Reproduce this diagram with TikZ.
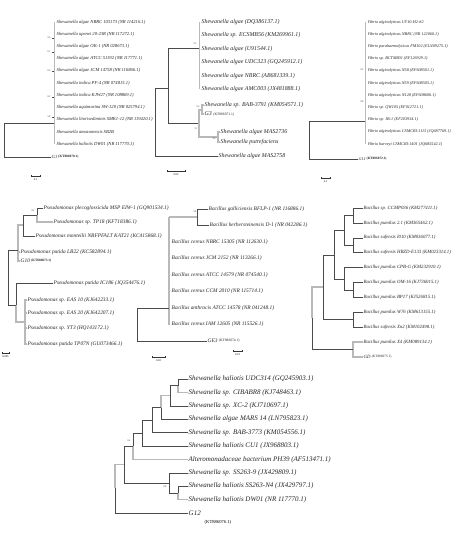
\documentclass[tikz,border=0pt]{standalone}
\usepackage{fontspec}
\setmainfont{Liberation Serif}
\usetikzlibrary{arrows.meta}
\definecolor{ink}{RGB}{75,75,75}
\definecolor{pale}{RGB}{185,185,185}
\tikzset{
  br/.style={draw=ink,line width=0.45pt},
  gbr/.style={draw=pale,line width=1.4pt},
  leaf/.style={anchor=west,inner sep=0.5pt,text=black!85,
    font=\fontsize{#1}{#1}\selectfont\itshape},
  leaf/.default=4.6,
  acc/.style={anchor=west,inner sep=0.5pt,font=\fontsize{#1}{#1}\selectfont\upshape},
  acc/.default=3.4,
  boot/.style={inner sep=0pt,text=black!70,font=\fontsize{2.6}{3}\selectfont},
  sbar/.style={draw=black!80,line width=0.4pt,{Bar[width=2.5pt]}-{Bar[width=2.5pt]}},
  sbtxt/.style={inner sep=0pt,font=\fontsize{2.8}{3}\selectfont},
}

\begin{document}
\begin{tikzpicture}[x=1pt,y=-1pt]
  \useasboundingbox[fill=white] (0,0) rectangle (455,538);

  % tree 1 : Shewanella
  \foreach \t [count=\i] in {Shewanella algae NBRC 103173 (NR 114216.1),
      Shewanella upenei 20-23R (NR 117272.1), Shewanella algae OK-1 (NR 028673.1),
      Shewanella algae ATCC 51192 (NR 117771.1), Shewanella algae JCM 14758 (NR 116866.1),
      Shewanella indica PF-4 (NR 074815.1), Shewanella indica KJW27 (NR 108869.1),
      Shewanella aquimarina SW-120 (NR 025794.1), Shewanella litorisediminis SMK1-12 (NR 119420.1),
      Shewanella amazonensis SB2B, Shewanella haliotis DW01 (NR 117770.1)}
    \node[leaf] (sa\i) at (56,{22+12.2*(\i-1)}) {\t};
  \draw[gbr] ([xshift=-1.5pt]sa1.west) -- ([xshift=-1.5pt]sa11.west);
  \foreach \y/\b in {38/99,52/61,71/60,97/62,117/58} {
    \draw[br] (51.5,\y) -- (54,\y);
    \node[boot] at (49,\y) {\b};
  }
  \node[leaf] (g1) at (51,157) {G1 \raisebox{0.8pt}{\upshape\bfseries\fontsize{3.4}{4}\selectfont(KT886070.1)}};
  \coordinate (t1r) at (4,140);
  \coordinate (t1c) at (54,123);
  \draw[br] (t1r) |- (t1c);
  \draw[br] (t1r) |- (g1.west);
  \draw[sbar] (31,176) -- (40,176);
  \node[sbtxt] (sc1) at (35.5,180) {0.1};

  % tree 2 : Shewanella algae
  \foreach \t [count=\i] in {Shewanella algae (DQ386137.1), Shewanella sp. ECSMB56 (KM269961.1),
      Shewanella algae (U91544.1), Shewanella algae UDC323 (GQ245912.1),
      Shewanella algae NBRC (AB681339.1), Shewanella algae AMC003 (JX481888.1)}
    \node[leaf=5.9] (sb\i) at (201,{22+13.4*(\i-1)}) {\t};
  \draw[gbr] ([xshift=-1.5pt]sb1.west) -- ([xshift=-1.5pt]sb6.west);
  \node[leaf=5.9] (sb7) at (204,105) {Shewanella sp. BAB-3791 (KM054571.1)};
  \node[leaf=5.9] (g3) at (204,114) {G3 \raisebox{0.8pt}{\upshape\fontsize{3.6}{4}\selectfont(KT886071.1)}};
  \node[leaf=5.9] (sb8) at (220,132) {Shewanella algae MAS2736};
  \node[leaf=5.9] (sb9) at (220,142) {Shewanella putrefaciens};
  \node[leaf=5.9] (sb10) at (218,156) {Shewanella algae MAS2758};
  \coordinate (t2a) at (199,48);
  \coordinate (t2b) at (168,88);
  \coordinate (t2c) at (199,123);
  \coordinate (t2d) at (202,110);
  \coordinate (t2e) at (218,137);
  \coordinate (t2r) at (155,122);
  \draw[br] (t2b) |- (t2a);
  \draw[br] (t2b) |- (t2c);
  \draw[gbr] (t2c) |- (t2d);
  \draw[gbr] (t2c) |- (t2e);
  \draw[gbr] (t2d) |- (sb7.west);
  \draw[gbr] (t2d) |- (g3.west);
  \draw[gbr] (t2e) |- (sb8.west);
  \draw[gbr] (t2e) |- (sb9.west);
  \draw[br] (t2r) |- (t2b);
  \draw[br] (t2r) |- (sb10.west);
  \node[boot] at (195,44) {92};
  \node[boot] at (198,107) {95};
  \node[boot] at (196,129) {91};
  \node[boot] at (214,139) {98};
  \draw[sbar] (167,171) -- (185,171);
  \node[sbtxt] (sc2) at (176,175) {0.02};

  % tree 3 : Vibrio
  \foreach \t [count=\i] in {Vibrio alginolyticus UY10-H2-\#2, Vibrio alginolyticus NBRC (NR 122060.1),
      Vibrio parahaemolyticus FM102 (EU409275.1), Vibrio sp. BCTM801 (EF126929.1),
      Vibrio alginolyticus N58 (EF608501.1), Vibrio alginolyticus N59 (EF608505.1),
      Vibrio alginolyticus N128 (EF608606.1), Vibrio sp. QW105 (EF012721.1),
      Vibrio sp. JB-1 (EF203934.1), Vibrio alginolyticus CSMCRI-1113 (JQ687769.1),
      Vibrio harveyi CSMCRI-1401 (JQ685542.1)}
    \node[leaf=4.2] (vb\i) at (367,{22+12.2*(\i-1)}) {\t};
  \draw[gbr] ([xshift=-1.5pt]vb1.west) -- ([xshift=-1.5pt]vb11.west);
  \node[boot] at (362,70) {89};
  \node[boot] at (362,102) {88};
  \node[leaf=4.2] (g11) at (358,159) {G11 \raisebox{0.8pt}{\upshape\bfseries\fontsize{3.4}{4}\selectfont(KT886072.1)}};
  \coordinate (t3r) at (309,140);
  \coordinate (t3c) at (365,121);
  \draw[br] (t3r) |- (t3c);
  \draw[br] (t3r) |- (g11.west);
  \draw[sbar] (321,178) -- (330,178);
  \node[sbtxt] (sc3) at (325.5,182) {0.1};

  % tree 4 : Pseudomonas
  \tikzset{leaf/.default=5.4}
  \node[leaf] (p1) at (43,208) {Pseudomonas plecoglossicida MSP EIW-1 (GQ901534.1)};
  \node[leaf] (p2) at (53,222) {Pseudomonas sp. TP18 (KF718386.1)};
  \node[leaf] (p3) at (35,236) {Pseudomonas monteilii NBFPFALT KAT21 (KC415868.1)};
  \node[leaf] (p4) at (20,252) {Pseudomonas putida LB22 (KC582894.1)};
  \node[leaf] (g10) at (20,261) {G10 \raisebox{0.8pt}{\upshape\bfseries\fontsize{3.4}{4}\selectfont(KT886073.1)}};
  \node[leaf] (p5) at (53,283) {Pseudomonas putida IC186 (JQ354476.1)};
  \node[leaf] (p6) at (27,300) {Pseudomonas sp. EAS 10 (KJ642233.1)};
  \node[leaf] (p7) at (27,313) {Pseudomonas sp. EAS 20 (KJ642207.1)};
  \node[leaf] (p8) at (27,328) {Pseudomonas sp. YT3 (HQ143172.1)};
  \node[leaf] (p9) at (27,344) {Pseudomonas putida TP07N (GU073466.1)};
  \coordinate (n4a) at (37,215);
  \coordinate (n4b) at (23,225);
  \coordinate (n4c) at (18,250);
  \coordinate (n4d) at (16,305);
  \coordinate (n4e) at (25,322);
  \coordinate (n4r) at (8,278);
  \draw[br] (n4a) |- (p1.west);
  \draw[gbr] (n4a) |- (p2.west);
  \draw[br] (n4b) |- (n4a);
  \draw[br] (n4b) |- (p3.west);
  \draw[gbr] (n4c) |- (n4b);
  \draw[gbr] (n4c) |- (p4.west);
  \draw[gbr] (n4c) |- (g10.west);
  \draw[br] (n4d) |- (p5.west);
  \draw[gbr] (n4d) |- (n4e);
  \foreach \k in {6,...,9} \draw[gbr] (n4e) |- (p\k.west);
  \draw[br] (n4r) |- (n4c);
  \draw[br] (n4r) |- (n4d);
  \node[boot] at (33,211) {82};
  \draw[sbar] (2,353) -- (9,353);
  \node[sbtxt] (sc4) at (5.5,357) {0.005};

  % tree 5 : Bacillus cereus group
  \node[leaf] (b1) at (208,209) {Bacillus galliciensis BFLP-1 (NR 116886.1)};
  \node[leaf] (b2) at (209,225.5) {Bacillus herbersteinensis D-1 (NR 042286.1)};
  \foreach \t [count=\i from 3] in {Bacillus cereus NBRC 15305 (NR 112630.1),
      Bacillus cereus JCM 2152 (NR 113266.1), Bacillus cereus ATCC 14579 (NR 074540.1),
      Bacillus cereus CCM 2010 (NR 115714.1), Bacillus anthracis ATCC 14578 (NR 041248.1),
      Bacillus cereus IAM 12605 (NR 115526.1)}
    \node[leaf] (b\i) at (171,{209+16.5*(\i-1)}) {\t};
  \node[leaf] (ge3) at (207,341) {GE3 \raisebox{0.8pt}{\upshape\fontsize{3.6}{4}\selectfont(KT886074.1)}};
  \coordinate (n5a) at (197,217);
  \coordinate (n5b) at (169,308);
  \coordinate (n5r) at (137,325);
  \draw[gbr] (169,217) -- (169,324.5);
  \draw[br] (n5a) |- (b1.west);
  \draw[br] (n5a) |- (b2.west);
  \draw[gbr] (169,217) -- (n5a);
  \draw[br] (n5r) |- (n5b);
  \draw[br] (n5r) |- (ge3.west);
  \node[boot] at (195,212) {98};
  \draw[sbar] (233,351) -- (242,351);
  \node[sbtxt] (sc5) at (237.5,355) {0.01};

  % tree 6 : Bacillus pumilus group
  \foreach \t [count=\i] in {Bacillus sp. CCMP036 (KM277411.1), Bacillus pumilus 2.1 (KM365462.1),
      Bacillus safensis I010 (KM036077.1), Bacillus safensis HBZD-E133 (KM023314.1),
      Bacillus pumilus CPB-G (KM232910.1), Bacillus pumilus OM-16 (KJ736015.1),
      Bacillus pumilus BP17 (KJ526815.1), Bacillus pumilus W76 (KM613155.1),
      Bacillus safensis Xn2 (KM102498.1), Bacillus pumilus X4 (KM089134.1)}
    \node[leaf=4.8] (c\i) at (363,{208+14.9*(\i-1)}) {\t};
  \node[leaf=4.8] (gd) at (363,357) {GD \raisebox{0.8pt}{\upshape\fontsize{3.4}{4}\selectfont(KT886075.1)}};
  \coordinate (q12) at (353,215.5);
  \coordinate (q34) at (353,245.5);
  \coordinate (qa) at (344,230.5);
  \coordinate (q67) at (353,290);
  \coordinate (qb) at (344,279);
  \coordinate (qc) at (334,255);
  \coordinate (q89) at (353,319.5);
  \coordinate (qd) at (323,287);
  \coordinate (q10) at (353,349.5);
  \coordinate (qr) at (312,318);
  \draw[br] (q12) |- (c1.west);  \draw[br] (q12) |- (c2.west);
  \draw[br] (q34) |- (c3.west);  \draw[br] (q34) |- (c4.west);
  \draw[br] (qa) |- (q12);       \draw[br] (qa) |- (q34);
  \draw[br] (q67) |- (c6.west);  \draw[br] (q67) |- (c7.west);
  \draw[br] (qb) |- (c5.west);   \draw[br] (qb) |- (q67);
  \draw[br] (qc) |- (qa);        \draw[br] (qc) |- (qb);
  \draw[br] (q89) |- (c8.west);  \draw[br] (q89) |- (c9.west);
  \draw[br] (qd) |- (qc);        \draw[br] (qd) |- (q89);
  \draw[gbr] (q10) |- (c10.west); \draw[gbr] (q10) |- (gd.west);
  \draw[gbr] (qr) |- (qd);       \draw[br] (qr) |- (q10);

  % tree 7 : Shewanella haliotis
  \foreach \t [count=\i] in {Shewanella haliotis UDC314 (GQ245903.1), Shewanella sp. CIBABR8 (KJ748463.1),
      Shewanella sp. XC-2 (KJ710697.1), Shewanella algae MARS 14 (LN795823.1),
      Shewanella sp. BAB-3773 (KM054556.1), Shewanella haliotis CU1 (JX968803.1),
      Alteromonadaceae bacterium PH39 (AF513471.1), Shewanella sp. SS263-9 (JX429809.1),
      Shewanella haliotis SS263-N4 (JX429797.1), Shewanella haliotis DW01 (NR 117770.1), G12}
    \node[leaf=7] (s\i) at (188,{379+13.4*(\i-1)}) {\t};
  \node[acc=4.6] (acc12) at (204,522) {(KT886076.1)};
  \coordinate (k1) at (178,385.7);
  \coordinate (k2) at (170,395.7);
  \coordinate (k3) at (161,407.5);
  \coordinate (k4) at (152,420);
  \coordinate (k5) at (142,433);
  \coordinate (k6) at (133,446);
  \coordinate (k9) at (178,493);
  \coordinate (k8) at (169,483);
  \coordinate (k7) at (124,464.5);
  \coordinate (k0) at (115,488);
  \draw[br] (k1) |- (s1.west);   \draw[gbr] (k1) |- (s2.west);
  \draw[br] (k2) |- (k1);        \draw[br] (k2) |- (s3.west);
  \draw[gbr] (k3) |- (k2);       \draw[br] (k3) |- (s4.west);
  \draw[br] (k4) |- (k3);        \draw[br] (k4) |- (s5.west);
  \draw[br] (k5) |- (k4);        \draw[br] (k5) |- (s6.west);
  \draw[br] (k6) |- (k5);        \draw[gbr] (k6) |- (s7.west);
  \draw[br] (k9) |- (s9.west);   \draw[gbr] (k9) |- (s10.west);
  \draw[br] (k8) |- (s8.west);   \draw[br] (k8) |- (k9);
  \draw[br] (k7) |- (k6);        \draw[br] (k7) |- (k8);
  \draw[gbr] (k0) |- (k7);       \draw[br] (k0) |- (s11.west);
  \node[boot] at (129,441) {64};
  \node[boot] at (165,487) {68};
  \draw[sbar] (152,357) -- (165,357);
  \node[sbtxt] (sc7) at (158.5,361) {0.02};
\end{tikzpicture}
\end{document}
